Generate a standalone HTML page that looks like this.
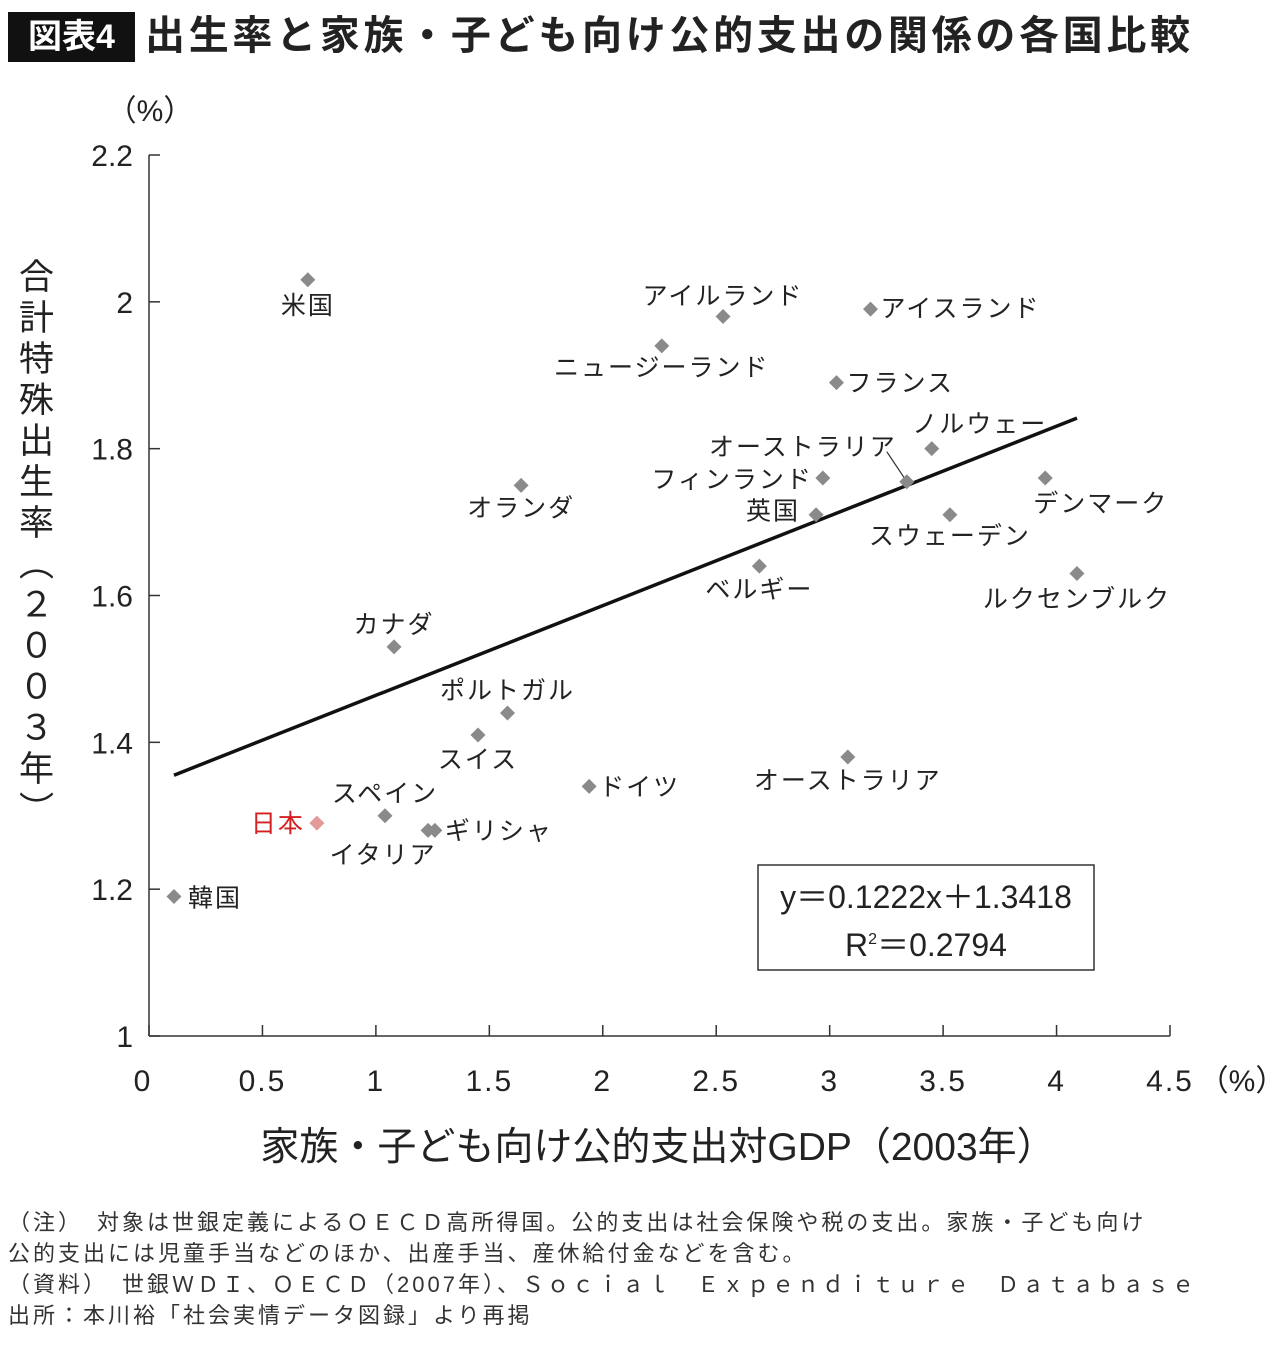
<!DOCTYPE html>
<html><head><meta charset="utf-8"><style>
body{margin:0;background:#fff;width:1280px;height:1348px;overflow:hidden;font-family:"Liberation Sans","Noto Sans CJK JP",sans-serif;}
.t{position:absolute;white-space:nowrap;color:#222;}
</style></head><body>
<div class="t" style="left:8px;top:12px;width:127px;height:50px;background:#111;color:#fff;font-size:34px;line-height:50px;text-align:center;font-weight:bold;">図表4</div>
<div class="t" style="left:145px;top:10px;font-size:40px;letter-spacing:3.7px;line-height:52px;font-weight:bold;color:#222;">出生率と家族・子ども向け公的支出の関係の各国比較</div>
<div class="t" style="left:8px;top:258px;font-size:35px;writing-mode:vertical-rl;letter-spacing:6px;">合計特殊出生率（２００３年）</div>
<svg id="chart" width="1280" height="1348" style="position:absolute;left:0;top:0;font-family:'Liberation Sans','Noto Sans CJK JP',sans-serif;"></svg>
<div class="t" style="left:8px;top:1207px;font-size:22px;letter-spacing:3px;line-height:31px;color:#333;">（注）　対象は世銀定義によるＯＥＣＤ高所得国。公的支出は社会保険や税の支出。家族・子ども向け<br>公的支出には児童手当などのほか、出産手当、産休給付金などを含む。<br>（資料）　世銀ＷＤＩ、ＯＥＣＤ（2007年）、Ｓｏｃｉａｌ　Ｅｘｐｅｎｄｉｔｕｒｅ　Ｄａｔａｂａｓｅ<br>出所：本川裕「社会実情データ図録」より再掲</div>
<script>
const countries=["米国","アイルランド","アイスランド","ニュージーランド","フランス","ノルウェー","オーストラリア","フィンランド","デンマーク","英国","スウェーデン","オランダ","ベルギー","ルクセンブルク","カナダ","ポルトガル","スイス","ドイツ","スペイン","日本","ギリシャ","イタリア","韓国","オーストラリア"];
const spending=[0.70,2.53,3.18,2.26,3.03,3.45,3.34,2.97,3.95,2.94,3.53,1.64,2.69,4.09,1.08,1.58,1.45,1.94,1.04,0.74,1.26,1.23,0.11,3.08];
const fertility=[2.03,1.98,1.99,1.94,1.89,1.80,1.755,1.76,1.76,1.71,1.71,1.75,1.64,1.63,1.53,1.44,1.41,1.34,1.30,1.29,1.28,1.28,1.19,1.38];
const xTicks=[0,0.5,1,1.5,2,2.5,3,3.5,4,4.5];
const xTickLabels=["0","0.5","1","1.5","2","2.5","3","3.5","4","4.5"];
const yTicks=[1,1.2,1.4,1.6,1.8,2,2.2];
const yTickLabels=["1","1.2","1.4","1.6","1.8","2","2.2"];
const slope=0.1222, intercept=1.3418;
// label offsets (styling only)
const lab=[[0,34,"middle"],[0,-12,"middle"],[10,8,"start"],[0,30,"middle"],[10,9,"start"],[48,-16,"middle"],[-10,-26,"end"],[-10,10,"end"],[-12,34,"start"],[-16,5,"end"],[0,30,"middle"],[0,31,"middle"],[0,32,"middle"],[0,34,"middle"],[0,-14,"middle"],[0,-14,"middle"],[0,33,"middle"],[10,9,"start"],[0,-14,"middle"],[-12,9,"end"],[10,9,"start"],[-45,33,"middle"],[14,10,"start"],[0,32,"middle"]];
const X=v=>149+v*(1021/4.5), Y=v=>1036-(v-1)*(881/1.2);
const svg=document.getElementById('chart'),NS='http://www.w3.org/2000/svg';
function mk(t,a,p){const e=document.createElementNS(NS,t);for(const k in a)e.setAttribute(k,a[k]);(p||svg).appendChild(e);return e;}
let e;
e=mk('line',{x1:149,y1:155,x2:149,y2:1036,stroke:'#333','stroke-width':1.5});


e=mk('line',{x1:149,y1:1036,x2:1170,y2:1036,stroke:'#333','stroke-width':1.5});


yTicks.forEach((v,i)=>{
 e=mk('line',{x1:149,y1:Y(v),x2:160,y2:Y(v),stroke:'#333','stroke-width':1.5});
 
 
 e=mk('text',{x:133,y:Y(v)+11,'text-anchor':'end','font-size':30,fill:'#222'});
 e.textContent=yTickLabels[i];
 
 
});
xTicks.forEach((v,i)=>{
 e=mk('line',{x1:X(v),y1:1025,x2:X(v),y2:1036,stroke:'#333','stroke-width':1.5});
 
 
 e=mk('text',{x:X(v)-(i==0?6:0),y:1091,'text-anchor':'middle','font-size':30,fill:'#222','letter-spacing':2});
 e.textContent=xTickLabels[i];
 
 
});
e=mk('text',{x:150,y:121,'text-anchor':'middle','font-size':30,fill:'#222'});e.textContent='（%）';


e=mk('text',{x:1242,y:1091,'text-anchor':'middle','font-size':30,fill:'#222'});e.textContent='（%）';


e=mk('text',{x:658,y:1160,'text-anchor':'middle','font-size':39,fill:'#222'});e.textContent='家族・子ども向け公的支出対GDP（2003年）';


const xmin=Math.min(...spending),xmax=Math.max(...spending);
e=mk('line',{x1:X(xmin),y1:Y(slope*xmin+intercept),x2:X(xmax),y2:Y(slope*xmax+intercept),stroke:'#111','stroke-width':3.5});


e=mk('line',{x1:X(spending[6])-20,y1:Y(fertility[6])-30,x2:X(spending[6]),y2:Y(fertility[6]),stroke:'#333','stroke-width':1.2});


countries.forEach((c,i)=>{
 const cx=X(spending[i]),cy=Y(fertility[i]),s=7.5;
 const col=c==="日本"?'#e39a9a':'#8a8a8a';
 e=mk('polygon',{points:`${cx},${cy-s} ${cx+s},${cy} ${cx},${cy+s} ${cx-s},${cy}`,fill:col});
 
 
 const o=lab[i];
 e=mk('text',{x:cx+o[0],y:cy+o[1],'text-anchor':o[2],'font-size':25,fill:c==="日本"?'#d42020':'#222','letter-spacing':2});
 e.textContent=c;
 
 
});
e=mk('rect',{x:758,y:865,width:336,height:105,fill:'#fff',stroke:'#333','stroke-width':1.5});


e=mk('text',{x:926,y:908,'text-anchor':'middle','font-size':32,fill:'#222'});e.textContent='y＝0.'+String(slope).split('.')[1]+'x＋'+intercept;


e=mk('text',{x:926,y:956,'text-anchor':'middle','font-size':32,fill:'#222'});e.innerHTML='R<tspan dy="-12" font-size="16">2</tspan><tspan dy="12">＝0.2794</tspan>';


</script>
</body></html>
